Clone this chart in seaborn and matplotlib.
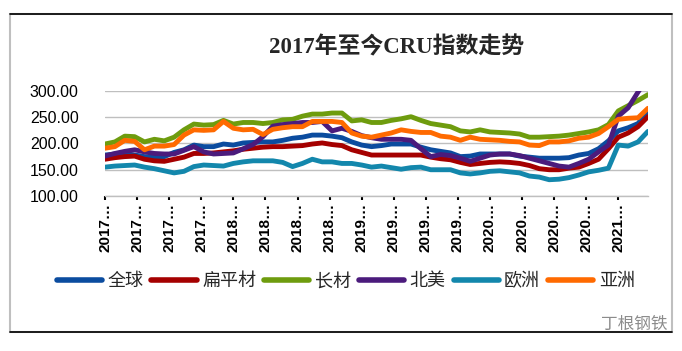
import seaborn as sns
import matplotlib.pyplot as plt
import matplotlib.lines as mlines
import numpy as np
import pandas as pd

# 每4周取一个点, 2017年1月起
weeks = list(range(0, 224, 4))
tick_weeks = list(range(0, 209, 13))
tick_labels = ["2017…"] * 4 + ["2018…"] * 4 + ["2019…"] * 4 + ["2020…"] * 4 + ["2021…"]

quanqiu = [178, 180, 181, 178, 175, 174, 175, 183, 188, 197, 194, 194, 199, 197, 201, 202, 203, 203, 206, 210,
           212, 216, 216, 214, 211, 203, 197, 194, 196, 199, 199, 199, 193, 188, 185, 182, 175, 176, 180, 180,
           180, 180, 176, 174, 172, 172, 172, 173, 178, 181, 190, 205, 224, 230, 238, 261]
bianping = [170, 173, 175, 176, 170, 167, 166, 170, 174, 181, 181, 182, 184, 186, 189, 191, 193, 194, 194, 195,
            196, 199, 201, 198, 196, 188, 183, 178, 178, 178, 178, 178, 178, 174, 171, 169, 164, 160, 162, 164,
            165, 164, 162, 158, 152, 150, 150, 153, 155, 162, 170, 190, 212, 220, 232, 251]
changcai = [199, 203, 214, 213, 203, 208, 205, 212, 226, 237, 235, 236, 244, 237, 240, 240, 238, 240, 245, 246,
            252, 256, 256, 258, 258, 243, 245, 240, 240, 244, 247, 251, 244, 238, 235, 232, 224, 222, 226, 222,
            221, 220, 218, 212, 212, 213, 214, 216, 219, 222, 226, 236, 262, 272, 282, 293]
beimei = [176, 181, 185, 188, 184, 181, 180, 180, 187, 194, 184, 180, 181, 182, 190, 198, 213, 233, 236, 238,
          240, 240, 242, 224, 229, 223, 215, 211, 208, 208, 208, 206, 190, 175, 179, 177, 172, 166, 172, 178,
          180, 180, 177, 172, 167, 162, 157, 155, 162, 170, 184, 197, 252, 268, 298, 325]
ouzhou = [155, 157, 158, 159, 155, 152, 148, 144, 147, 156, 159, 158, 157, 162, 165, 167, 167, 167, 164, 156,
          162, 170, 165, 165, 162, 162, 159, 155, 157, 154, 151, 154, 155, 150, 150, 150, 144, 142, 144, 147,
          148, 146, 144, 138, 136, 131, 132, 135, 140, 146, 149, 153, 197, 195, 203, 223]
yazhou = [191, 194, 206, 204, 188, 195, 195, 198, 216, 226, 225, 226, 242, 229, 226, 227, 217, 227, 230, 232,
          232, 242, 242, 242, 240, 220, 214, 212, 216, 220, 226, 223, 221, 221, 214, 212, 206, 212, 208, 207,
          206, 204, 203, 197, 196, 203, 203, 205, 210, 212, 219, 232, 246, 248, 249, 267]

names = ["全球", "扁平材", "长材", "北美", "欧洲", "亚洲"]
series = [quanqiu, bianping, changcai, beimei, ouzhou, yazhou]
colors = ["#0B4C9F", "#A50000", "#6E9C0E", "#4B1B7C", "#1387AC", "#FF6A00"]

df = pd.concat([pd.DataFrame({"周": weeks, "指数": s, "类别": n}) for n, s in zip(names, series)])

sns.set_theme(style="white")
plt.rcParams["font.family"] = ["Liberation Sans", "Noto Sans CJK SC"]

fig = plt.figure(figsize=(6.82, 3.51), dpi=100)
ax = fig.add_axes([0.154, 0.4416, 0.796, 0.2992])
sns.lineplot(data=df, x="周", y="指数", hue="类别", palette=dict(zip(names, colors)),
             linewidth=3.5, ax=ax, legend=False, solid_capstyle="round")

ax.set_xlim(0, 220)
ax.set_ylim(100, 300)
ax.set_yticks([100, 150, 200, 250, 300])
ax.set_yticklabels([f"{v:.2f}" for v in [100, 150, 200, 250, 300]], fontsize=11.5, color="#000000")
ax.set_xticks(tick_weeks)
ax.set_xticklabels(tick_labels, rotation=90, fontsize=11, fontweight="bold", color="#000000")
ax.tick_params(axis="x", length=3, width=1.5, color="#000000", pad=2, bottom=True)
ax.tick_params(axis="y", length=0, pad=19)
ax.set_xlabel("")
ax.set_ylabel("")
ax.yaxis.grid(True, color="#BFBFBF", linewidth=1)
ax.xaxis.grid(False)
for s in ["left", "right", "top"]:
    ax.spines[s].set_visible(False)
ax.spines["bottom"].set_color("#BFBFBF")
ax.spines["bottom"].set_linewidth(1)

fig.text(0.582, 0.865, "2017年至今CRU指数走势", ha="center", va="center", fontsize=16.5,
         fontweight="bold", family=["Liberation Serif", "Noto Sans CJK SC"])

handles = [mlines.Line2D([], [], color=c, linewidth=4, solid_capstyle="round") for c in colors]
fig.legend(handles, names, loc="center", bbox_to_anchor=(0.507, 0.197), ncol=6, frameon=False,
           fontsize=13, handlelength=2.5, handletextpad=0.3, columnspacing=0.45)

# 外框
fig.add_artist(plt.Rectangle((0.015, 0.055), 0.97, 0.905, transform=fig.transFigure,
                             fill=False, edgecolor="#BFBFBF", linewidth=1.5))
fig.add_artist(mlines.Line2D([0.015, 0.985], [0.96, 0.96], transform=fig.transFigure, color="black", linewidth=1.2))
fig.add_artist(mlines.Line2D([0.015, 0.985], [0.055, 0.055], transform=fig.transFigure, color="black", linewidth=1.2))

fig.text(0.93, 0.075, "丁根钢铁", ha="center", va="center", fontsize=12, color="#8C8C8C",
         family=["Noto Sans CJK SC"])

fig.savefig("out.png", dpi=100)
